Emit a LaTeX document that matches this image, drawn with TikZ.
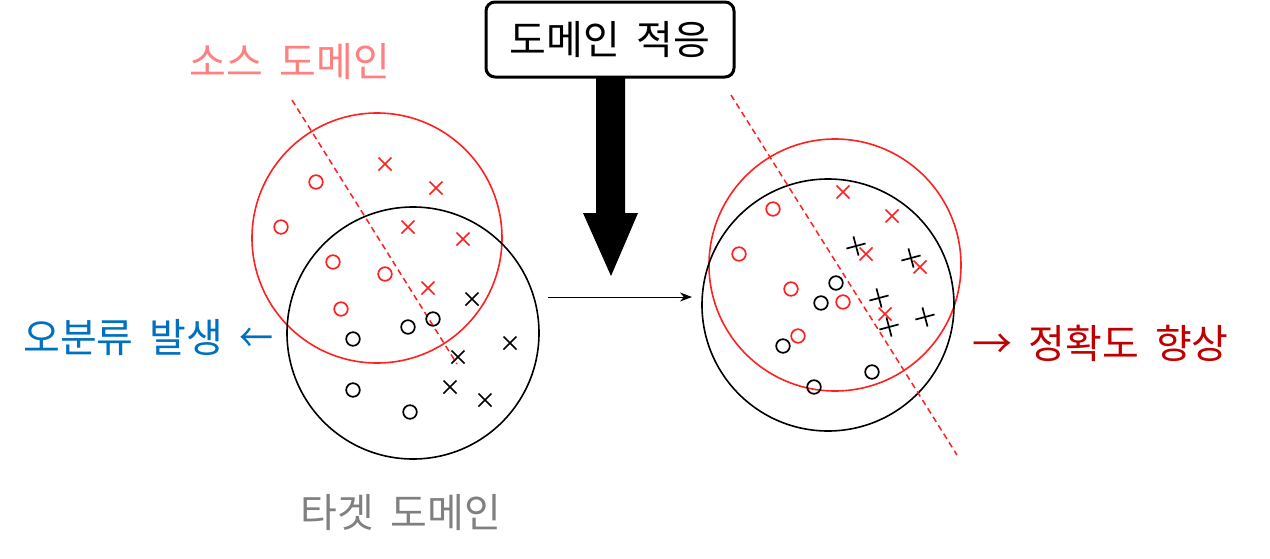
\documentclass[tikz,border=0pt]{standalone}
\usepackage{graphicx}
\usepackage{fontspec}
\newfontfamily\kr[WordSpace=1.8]{Noto Sans CJK KR}
\usetikzlibrary{arrows.meta}
\definecolor{srcpink}{HTML}{FF8080}
\definecolor{tgtgray}{HTML}{808080}
\definecolor{misblue}{HTML}{0070C0}
\definecolor{accred}{HTML}{C00000}
\definecolor{ptred}{HTML}{FF2020}
\tikzset{
  domcircle/.style={line width=1.6pt},
  boundary/.style={ptred, line width=1.5pt, dash pattern=on 6pt off 4pt},
  lbl/.style={font=\kr\fontsize{40}{44}\selectfont, inner sep=0pt},
  omk/.style={line width=1.7pt},
  xmk/.style={line width=1.7pt},
}
\begin{document}
\begin{tikzpicture}[x=1pt,y=-1pt]
\useasboundingbox (0,0) rectangle (1270,558);

% ---------- left panel ----------
\draw[domcircle, ptred] (377,238) circle[radius=125];
\draw[domcircle, black] (413,333) circle[radius=126];
\coordinate (ld1) at (292,100);
\coordinate (ld2) at (457,364);
\draw[boundary] (ld1) -- (ld2);

\foreach \x/\y in {316/182, 281/227, 333/262, 385/274, 341/309}
  \draw[omk, ptred] (\x,\y) circle[radius=6.8];
\foreach \x/\y in {385/164, 436/188, 408/227, 463/239, 428/288}
  \draw[xmk, ptred] (\x-6.5,\y-6.5) -- (\x+6.5,\y+6.5) (\x-6.5,\y+6.5) -- (\x+6.5,\y-6.5);
\foreach \x/\y in {433/319, 408/327, 353/339, 353/390, 410/412}
  \draw[omk, black] (\x,\y) circle[radius=6.8];
\foreach \x/\y in {472/299, 510/343, 458/357, 450/387, 485/400}
  \draw[xmk, black] (\x-6.5,\y-6.5) -- (\x+6.5,\y+6.5) (\x-6.5,\y+6.5) -- (\x+6.5,\y-6.5);

% ---------- right panel ----------
\draw[domcircle, ptred] (835,265) circle[radius=126];
\draw[domcircle, black] (828,305) circle[radius=126];
\coordinate (rd1) at (731,95);
\coordinate (rd2) at (957,455);
\draw[boundary] (rd1) -- (rd2);

\foreach \x/\y in {773/209, 739/254, 791/289, 843/302, 798/336}
  \draw[omk, ptred] (\x,\y) circle[radius=6.8];
\foreach \x/\y in {843/192, 892/216, 866/254, 920/267, 885/314}
  \draw[xmk, ptred] (\x-6.5,\y-6.5) -- (\x+6.5,\y+6.5) (\x-6.5,\y+6.5) -- (\x+6.5,\y-6.5);
\foreach \x/\y in {836/283, 821/303, 783/346, 872/372, 814/387}
  \draw[omk, black] (\x,\y) circle[radius=6.8];
\foreach \x/\y in {856/246, 911/258, 879/298, 889/327, 925/317}
  \draw[xmk, black, rotate around={-30:(\x,\y)}] (\x-7,\y-7) -- (\x+7,\y+7) (\x-7,\y+7) -- (\x+7,\y-7);

% ---------- arrows ----------
\coordinate (ta1) at (548,297);
\coordinate (ta2) at (692,297);
\draw[line width=1pt, -{Stealth[length=12pt,width=9pt]}] (ta1) -- (ta2);

\node[lbl, draw, line width=3pt, rounded corners=9pt, minimum width=248pt, minimum height=75pt] (box) at (610,39.5) {도메인 적응};
\fill[black] (596,78) -- (625,78) -- (625,213) -- (638,213) -- (611,276) -- (583,213) -- (596,213) -- cycle;

% ---------- labels ----------
\node[lbl, text=srcpink] (src) at (290,62) {소스 도메인};
\node[lbl, text=tgtgray] (tgt) at (401,513) {타겟 도메인};
\node[lbl, text=misblue, anchor=west] (mis) at (23,338) {오분류 발생 \scalebox{0.85}[1]{←}};
\node[lbl, text=accred, anchor=east] (acc) at (1229,343) {→ 정확도 향상};
\end{tikzpicture}
\end{document}
